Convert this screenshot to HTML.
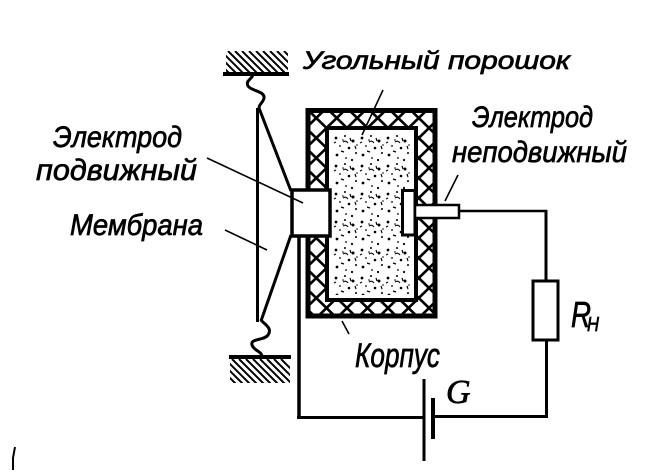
<!DOCTYPE html>
<html><head><meta charset="utf-8"><style>
html,body{margin:0;padding:0;background:#fff;}
svg{display:block;}
text{font-family:"Liberation Sans","DejaVu Sans",sans-serif;font-style:italic;fill:#000;stroke:#000;stroke-width:0.7;}
</style></head><body>
<svg width="651" height="476" viewBox="0 0 651 476" xmlns="http://www.w3.org/2000/svg">
<defs>
<pattern id="xh" x="306" y="108" width="20.5" height="20" patternUnits="userSpaceOnUse">
<path d="M0 0 L20.5 20 M20.5 0 L0 20" stroke="#000" stroke-width="2.6"/>
</pattern>
<pattern id="dots" x="333" y="134" width="26" height="28" patternUnits="userSpaceOnUse">
<circle cx="3" cy="4" r="1.4"/><circle cx="12" cy="2" r="1"/><circle cx="20" cy="7" r="1.5"/>
<circle cx="7" cy="12" r="0.9"/><circle cx="16" cy="14" r="1.3"/><circle cx="23" cy="19" r="1"/>
<circle cx="4" cy="21" r="1.4"/><circle cx="13" cy="24" r="0.9"/><circle cx="19" cy="26" r="1.1"/>
<circle cx="10" cy="6" r="0.8"/><circle cx="24" cy="11" r="0.8"/>
<path d="M8 17 l3 1 M17 4 l1 3 M1 9 l2 -1 M22 12 l1 3" stroke="#000" stroke-width="1.2"/>
<path d="M10 8 q3 -2 5 1" stroke="#000" stroke-width="1.1" fill="none"/>
</pattern>
<clipPath id="topg"><rect x="226" y="51" width="62" height="22"/></clipPath>
<clipPath id="botg"><rect x="230" y="359" width="60" height="24"/></clipPath>
</defs>

<!-- top ground -->
<g clip-path="url(#topg)" stroke="#000" stroke-width="2">
<path d="M200 51 l24 24 M207 51 l24 24 M214 51 l24 24 M221 51 l24 24 M228 51 l24 24 M235 51 l24 24 M242 51 l24 24 M249 51 l24 24 M256 51 l24 24 M263 51 l24 24 M270 51 l24 24 M277 51 l24 24 M284 51 l24 24"/>
</g>
<line x1="223" y1="74" x2="289" y2="74" stroke="#000" stroke-width="4"/>
<!-- bottom ground -->
<line x1="229" y1="357" x2="291" y2="357" stroke="#000" stroke-width="4"/>
<g clip-path="url(#botg)" stroke="#000" stroke-width="2">
<path d="M204 359 l26 26 M211 359 l26 26 M218 359 l26 26 M225 359 l26 26 M232 359 l26 26 M239 359 l26 26 M246 359 l26 26 M253 359 l26 26 M260 359 l26 26 M267 359 l26 26 M274 359 l26 26 M281 359 l26 26"/>
</g>

<!-- springs -->
<path d="M253 74 C253 79 245 80 248 86 C251 91 265 91 264 98 C263 103 259 104 259 108" fill="none" stroke="#000" stroke-width="3"/>
<path d="M261 320 C264 324 273 328 268 335 C264 341 250 338 252 345 C254 351 262 351 262 357" fill="none" stroke="#000" stroke-width="3"/>

<!-- membrane lines -->
<line x1="257.5" y1="108" x2="257.5" y2="322" stroke="#000" stroke-width="3"/>
<line x1="259" y1="108" x2="291" y2="191" stroke="#000" stroke-width="3"/>
<line x1="291" y1="235" x2="261" y2="321" stroke="#000" stroke-width="3"/>

<!-- body hatch -->
<path d="M306 108 H437 V318 H306 Z M327 128 H416 V300 H327 Z" fill="url(#xh)" fill-rule="evenodd"/>
<rect x="308" y="110.5" width="127" height="205.5" fill="none" stroke="#000" stroke-width="5"/>
<rect x="327" y="128" width="89" height="172" fill="#fff" stroke="#000" stroke-width="4"/>
<rect x="333" y="134" width="78" height="161" fill="url(#dots)"/>

<!-- movable electrode -->
<rect x="292" y="190" width="38" height="46" fill="#fff" stroke="#000" stroke-width="3.5"/>
<!-- fixed electrode -->
<rect x="402.5" y="190.5" width="12.5" height="44.5" fill="#fff" stroke="#000" stroke-width="3"/>
<rect x="415" y="205" width="44" height="13" fill="#fff" stroke="#000" stroke-width="2.5"/>

<!-- circuit -->
<line x1="299" y1="236" x2="299" y2="419" stroke="#000" stroke-width="3.5"/>
<line x1="297" y1="417.5" x2="425" y2="417.5" stroke="#000" stroke-width="3"/>
<line x1="433" y1="416.5" x2="548" y2="416.5" stroke="#000" stroke-width="3"/>
<line x1="459" y1="211" x2="547" y2="211" stroke="#000" stroke-width="2.5"/>
<line x1="546" y1="210" x2="546" y2="281" stroke="#000" stroke-width="3"/>
<line x1="546.5" y1="339" x2="546.5" y2="418" stroke="#000" stroke-width="3"/>
<rect x="533" y="281" width="25" height="59" fill="#fff" stroke="#000" stroke-width="3"/>
<line x1="424" y1="379" x2="424" y2="461" stroke="#000" stroke-width="3"/>
<line x1="433" y1="398" x2="433" y2="439" stroke="#000" stroke-width="4"/>

<!-- leaders -->
<g stroke="#000" stroke-width="1.6">
<line x1="383" y1="90" x2="362" y2="135"/>
<line x1="458" y1="175" x2="445" y2="201"/>
<line x1="207" y1="158" x2="303" y2="203"/>
<line x1="225" y1="230" x2="267" y2="250"/>
<line x1="342" y1="321" x2="349" y2="334"/>
</g>
<path d="M15 447 L13 458 L13 470" fill="none" stroke="#000" stroke-width="2"/>

<!-- labels -->
<text x="303" y="69" font-size="25" textLength="267" lengthAdjust="spacingAndGlyphs">Угольный порошок</text>
<text x="472" y="127" font-size="30" textLength="121" lengthAdjust="spacingAndGlyphs">Электрод</text>
<text x="452" y="162" font-size="30" textLength="175" lengthAdjust="spacingAndGlyphs">неподвижный</text>
<text x="53" y="147" font-size="30" textLength="129" lengthAdjust="spacingAndGlyphs">Электрод</text>
<text x="36" y="180" font-size="30" textLength="161" lengthAdjust="spacingAndGlyphs">подвижный</text>
<text x="70" y="235" font-size="30" textLength="133" lengthAdjust="spacingAndGlyphs">Мембрана</text>
<text x="355" y="367" font-size="34" textLength="85" lengthAdjust="spacingAndGlyphs">Корпус</text>
<text x="446" y="403" font-size="34" style="font-family:'Liberation Serif',serif">G</text>
<text x="571" y="327" font-size="36" textLength="20" lengthAdjust="spacingAndGlyphs">R</text>
<text x="587" y="331" font-size="20" textLength="12" lengthAdjust="spacingAndGlyphs">H</text>
</svg>
</body></html>
